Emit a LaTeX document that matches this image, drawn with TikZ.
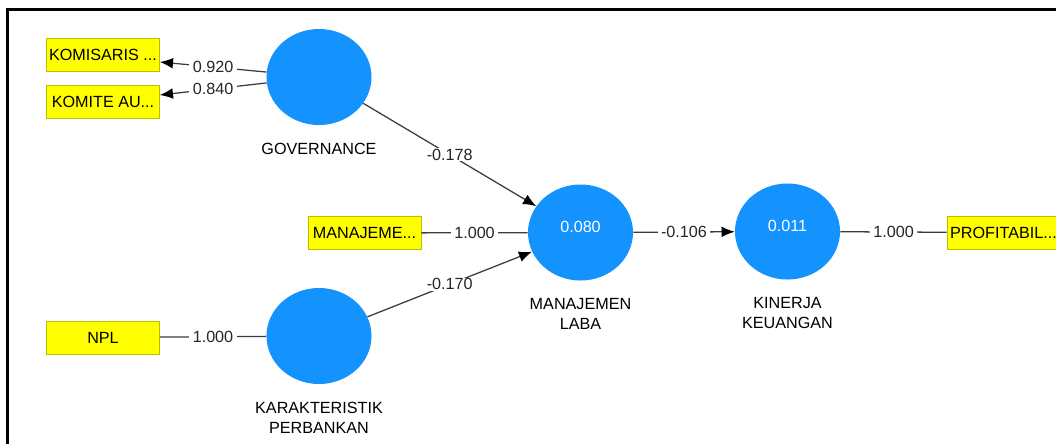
\documentclass[tikz,border=0pt]{standalone}
\usepackage{fontspec}
\setmainfont{Liberation Sans}
\usetikzlibrary{shapes.geometric,arrows.meta,calc}
\definecolor{lvblue}{RGB}{20,147,255}
\definecolor{mvyellow}{RGB}{255,255,0}
\definecolor{mvedge}{RGB}{190,190,0}
\definecolor{linkgray}{RGB}{60,60,60}

\begin{document}
\begin{tikzpicture}[x=0.025cm, y=-0.025cm,
		every node/.style={font=\fontsize{11.5}{14.2}\selectfont},
		latent/.style={ellipse, fill=lvblue, minimum width=2.625cm, minimum height=2.4cm, inner sep=0pt},
		indicator/.style={rectangle, draw=mvedge, fill=mvyellow, minimum width=2.825cm, minimum height=0.825cm, inner sep=1pt},
		name below/.style={label={[align=center, label distance=0.32cm]below:#1}},
		rsq/.style={label={[text=white, yshift=0.14cm]center:#1}},
		link/.style={draw=linkgray, line width=0.9pt},
		coef/.style={midway, fill=white, inner xsep=2.5pt, inner ysep=0.5pt, text=black!85},
		>={Latex[length=3.3mm, width=2.7mm, black]}]
				\useasboundingbox (0,0) rectangle (1056,443);
				\draw[line width=2pt] (1070,9.5) -- (7.5,9.5) -- (7.5,460);
				% latent variables
				\node[latent, name below={GOVERNANCE}] (gov)at(319, 77) {};
				\node[latent, name below={KARAKTERISTIK\\PERBANKAN}] (bank)at(319, 336) {};
				\node[latent, rsq={0.080}, name below={MANAJEMEN\\LABA}] (laba)at(580.5, 232.5) {};
				\node[latent, rsq={0.011}, name below={KINERJA\\KEUANGAN}] (kinerja)at(787.5, 231.5) {};
				% indicators
				\node[indicator] (komisaris)at(103, 54.5) {KOMISARIS ...};
				\node[indicator] (komite)at(103, 101.5) {KOMITE AU...};
				\node[indicator] (mlind)at(364.5, 233) {MANAJEME...};
				\node[indicator] (npl)at(103, 337.5) {NPL};
				\node[indicator] (profit)at(1003.5, 232.5) {PROFITABIL...};
				% paths
				\draw[link, ->] (gov) -- ($(komisaris.east)+(0,7.5)$) node[coef] {0.920};
				\draw[link, ->] (gov) -- ($(komite.east)+(0,-6.5)$) node[coef] {0.840};
				\draw[link, ->] (gov) -- (laba) node[coef] {-0.178};
				\draw[link, ->] (bank) -- (laba) node[coef] {-0.170};
				\draw[link] (mlind) -- (laba) node[coef] {1.000};
				\draw[link] (npl) -- (bank) node[coef] {1.000};
				\draw[link, ->] (laba) -- (kinerja) node[coef] {-0.106};
				\draw[link] (kinerja) -- (profit) node[coef] {1.000};
			\end{tikzpicture}
\end{document}
